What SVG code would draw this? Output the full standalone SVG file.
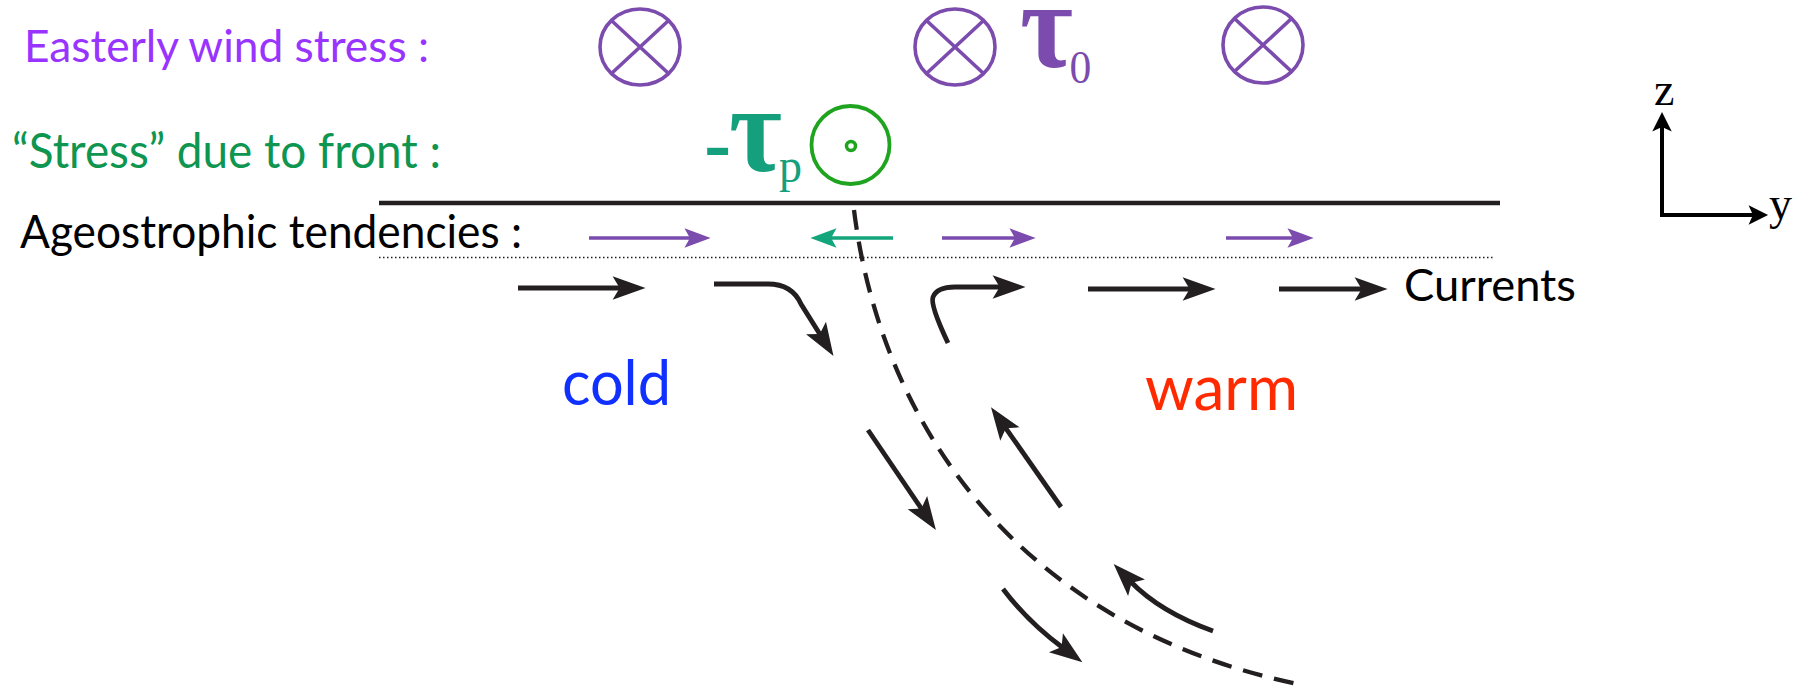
<svg xmlns="http://www.w3.org/2000/svg" width="1808" height="692" viewBox="0 0 1808 692">
<style>
.sans{font-family:Lato,"Open Sans","Liberation Sans",sans-serif}
.serif{font-family:"Liberation Serif","DejaVu Serif",serif}
.purple{fill:#7B4BAE}
.teal{fill:#14A07C}
.ot{fill:none;stroke:#7B4BAE;stroke-width:3.6}
.blk{fill:none;stroke:#231F20;stroke-width:4.8;marker-end:url(#hb)}
.pur{fill:none;stroke:#7B4BAE;stroke-width:3.6;marker-end:url(#hp)}
.grn{fill:none;stroke:#13A57C;stroke-width:3.6;marker-end:url(#hg)}
</style>
<defs>
<marker id="hb" markerUnits="userSpaceOnUse" markerWidth="40" markerHeight="30" viewBox="-2 -12 34 24" refX="8" refY="0" orient="auto"><path d="M0,-10 L28,0 L0,10 L6,0 Z" fill="#231F20"/></marker>
<marker id="hp" markerUnits="userSpaceOnUse" markerWidth="34" markerHeight="24" viewBox="-2 -11 30 22" refX="6" refY="0" orient="auto"><path d="M0,-9 L24,0 L0,9 L5,0 Z" fill="#7B4BAE"/></marker>
<marker id="hg" markerUnits="userSpaceOnUse" markerWidth="34" markerHeight="24" viewBox="-2 -11 30 22" refX="6" refY="0" orient="auto"><path d="M0,-9 L24,0 L0,9 L5,0 Z" fill="#13A57C"/></marker>
<marker id="ha" markerUnits="userSpaceOnUse" markerWidth="26" markerHeight="24" viewBox="-2 -11 24 22" refX="5" refY="0" orient="auto"><path d="M0,-9 L18,0 L0,9 L4,0 Z" fill="#000"/></marker>
<g id="otimes">
<ellipse cx="0" cy="0" rx="40" ry="38" class="ot"/>
<path d="M-28,-26 L28,26 M28,-26 L-28,26" class="ot"/>
</g>
</defs>

<g id="easterly-label"><text class="sans" x="24" y="62" font-size="45" fill="#9933FF" textLength="405" lengthAdjust="spacingAndGlyphs">Easterly wind stress :</text></g>
<g id="wind-1"><use href="#otimes" x="640" y="47"/></g>
<g id="wind-2"><use href="#otimes" x="955" y="47"/></g>
<g id="wind-3"><use href="#otimes" x="1263" y="45"/></g>
<g id="tau0-label"><text class="serif purple" transform="translate(1020,67) scale(1.15,1.22)" font-size="100" font-weight="bold">τ<tspan x="43" dy="13" font-size="38" font-weight="normal">0</tspan></text></g>

<g id="front-label"><text class="sans" x="12" y="168" font-size="49" fill="#0E9651" textLength="429" lengthAdjust="spacingAndGlyphs">“Stress” due to front :</text></g>
<g id="taup-label"><text class="serif teal" transform="translate(729,171) scale(1.15,1.22)" font-size="100" font-weight="bold"><tspan x="-21.5" font-size="70">-</tspan><tspan x="0">τ</tspan><tspan x="43.5" dy="9" font-size="40" font-weight="normal">p</tspan></text></g>
<g id="front-stress"><circle cx="850.5" cy="145" r="39" fill="none" stroke="#1FA41F" stroke-width="3.8"/><circle cx="851" cy="146" r="4.5" fill="none" stroke="#1FA41F" stroke-width="3.5"/></g>

<g id="surface">
<line x1="379" y1="203" x2="1500" y2="203" stroke="#231F20" stroke-width="4.5"/>
<line x1="379" y1="257.5" x2="1494" y2="257.5" stroke="#231F20" stroke-width="1.3" stroke-dasharray="1.5,2.5"/>
</g>
<g id="ageo-label"><text class="sans" x="20" y="248" font-size="47" fill="#000" textLength="502" lengthAdjust="spacingAndGlyphs">Ageostrophic tendencies :</text></g>
<g id="currents-label"><text class="sans" x="1404" y="301" font-size="45" fill="#000" textLength="172" lengthAdjust="spacingAndGlyphs">Currents</text></g>
<g id="cold-label"><text class="sans" x="562" y="405" font-size="62" fill="#1030FF" textLength="109" lengthAdjust="spacingAndGlyphs">cold</text></g>
<g id="warm-label"><text class="sans" x="1145" y="410" font-size="62" fill="#FF2A00" textLength="153" lengthAdjust="spacingAndGlyphs">warm</text></g>

<g id="connectors">
<path d="M854,210 C880,420 1015,625 1298,684" fill="none" stroke="#231F20" stroke-width="4.3" stroke-dasharray="20,12"/>
<line x1="589" y1="238" x2="691" y2="238" class="pur"/>
<line x1="893" y1="238" x2="830" y2="238" class="grn"/>
<line x1="942" y1="238" x2="1016" y2="238" class="pur"/>
<line x1="1226" y1="238" x2="1294" y2="238" class="pur"/>
<line x1="518" y1="288" x2="622" y2="288" class="blk"/>
<path d="M714,284 H768 Q792,284 801,304 L821,336" class="blk"/>
<path d="M948,343 Q930,305 933,297 Q937,287 955,287 H1002" class="blk"/>
<line x1="1088" y1="289" x2="1192" y2="289" class="blk"/>
<line x1="1279" y1="289" x2="1364" y2="289" class="blk"/>
<line x1="868" y1="430" x2="922.7" y2="510.5" class="blk"/>
<line x1="1061" y1="507" x2="1004.5" y2="426.4" class="blk"/>
<path d="M1003,589 Q1028,622 1063.5,648.3" class="blk"/>
<path d="M1213,631 Q1160,612 1130,581" class="blk"/>
</g>

<g id="axes">
<line x1="1662" y1="217" x2="1662" y2="126" stroke="#000" stroke-width="4" marker-end="url(#ha)"/>
<line x1="1660" y1="215" x2="1754" y2="215" stroke="#000" stroke-width="4" marker-end="url(#ha)"/>
<text class="serif" x="1654" y="105" font-size="46" fill="#000">z</text>
<text class="serif" x="1769" y="219" font-size="46" fill="#000">y</text>
</g>
</svg>
